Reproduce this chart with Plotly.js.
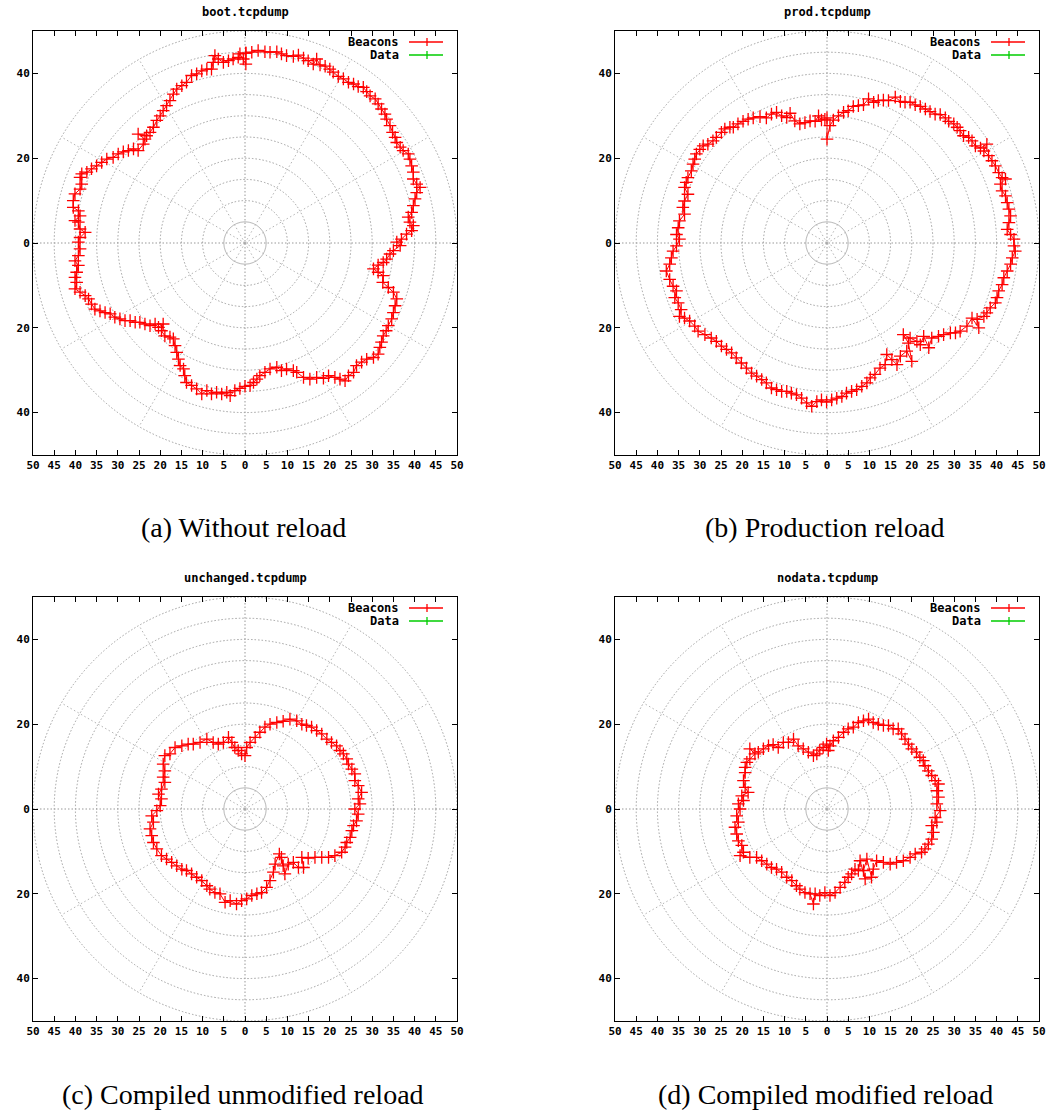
<!DOCTYPE html>
<html>
<head>
<meta charset="utf-8">
<script src="https://cdn.plot.ly/plotly-3.0.1.min.js"></script>
<style>html,body{margin:0;padding:0;background:#fff;}#chart{width:1053px;height:1112px;}</style>
</head>
<body>
<div id="chart"></div>
<script>
// ---------- data (data units) ----------
const titles = ['boot.tcpdump', 'prod.tcpdump', 'unchanged.tcpdump', 'nodata.tcpdump'];
const captions = ['(a) Without reload', '(b) Production reload', '(c) Compiled unmodified reload', '(d) Compiled modified reload'];
const seriesNames = ['Beacons', 'Data'];
const xTickVals = [-50,-45,-40,-35,-30,-25,-20,-15,-10,-5,0,5,10,15,20,25,30,35,40,45,50];
const xTickText = ['50','45','40','35','30','25','20','15','10','5','0','5','10','15','20','25','30','35','40','45','50'];
const yTickVals = [-40,-20,0,20,40];
const yTickText = ['40','20','0','20','40'];
const gridRadii = [5,10,15,20,25,30,35,40,45,50];
const gridAngles = [30,60,120,150,210,240,300,330];

const bootX = [0.2,1.6,3.1,4.7,5.9,7.5,8.6,9.8,11.4,12.6,13.8,14.9,16.1,16.9,17.7,18.9,20.0,20.8,22.0,23.2,24.4,25.6,26.7,27.9,28.7,29.5,30.7,31.4,32.2,33.0,33.4,34.2,34.8,35.4,35.8,36.6,37.3,38.5,38.9,39.3,39.7,39.7,40.5,41.3,40.5,40.1,39.7,39.3,38.5,38.9,39.7,39.3,38.1,36.9,35.8,36.6,35.0,34.2,33.4,32.6,31.4,30.3,31.4,32.6,32.5,33.8,35.0,35.8,35.4,35.0,34.6,33.8,33.3,32.6,32.2,31.8,31.4,30.3,28.7,27.5,26.3,25.6,24.4,23.6,22.4,21.2,19.7,18.5,16.9,15.3,13.8,12.2,11.4,9.8,8.6,7.5,5.9,4.7,3.5,2.8,2.0,1.2,0,-1.2,-2.4,-3.5,-4.3,-5.5,-6.7,-7.9,-9.0,-10.2,-11.4,-12.6,-13.8,-14.2,-14.5,-15.3,-15.7,-16.1,-16.5,-16.9,-17.7,-18.9,-19.7,-19.3,-20.4,-21.2,-22.4,-23.6,-24.8,-25.9,-27.1,-28.3,-29.5,-30.7,-31.8,-33.0,-34.2,-35.4,-36.2,-36.9,-37.7,-38.9,-40.1,-39.7,-40.1,-39.7,-39.3,-40.1,-39.3,-38.9,-39.3,-38.9,-37.7,-38.9,-39.3,-40.1,-38.9,-39.3,-40.5,-40.5,-40.1,-38.9,-38.5,-38.9,-38.5,-37.3,-36.2,-35.0,-33.8,-32.6,-31.1,-29.9,-28.7,-27.5,-26.3,-25.2,-24.0,-23.6,-25.2,-23.2,-22.4,-21.6,-20.8,-20.0,-19.3,-18.5,-17.7,-16.9,-16.1,-14.9,-13.8,-12.6,-11.4,-10.2,-9.0,-7.9,-7.5,-7.1,-6.3,-5.1,-3.9,-2.8,-1.6,-1.2,-0.4,0.2,0.2];
const bootY = [44.8,45.0,45.4,45.1,45.0,45.1,44.6,44.2,44.0,44.3,43.6,43.0,42.2,43.4,42.0,41.7,41.0,40.3,39.3,38.7,37.9,37.5,36.9,36.7,35.7,34.7,34.0,32.8,31.6,30.4,29.2,27.7,26.1,24.9,23.7,22.6,21.8,21.0,19.8,18.2,16.7,15.1,13.9,13.1,11.9,10.4,8.8,7.2,6.1,4.9,4.1,2.9,2.1,0.9,0.2,-0.6,-1.8,-2.6,-3.8,-4.6,-5.2,-6.1,-6.9,-7.7,-9.3,-10.5,-11.6,-13.2,-14.8,-16.4,-17.9,-19.5,-20.7,-21.9,-23.4,-24.6,-26.2,-27.0,-27.4,-28.1,-28.9,-30.5,-31.3,-32.5,-32.1,-31.7,-31.3,-31.9,-31.7,-32.1,-31.7,-30.5,-30.1,-29.7,-30.1,-29.3,-29.7,-30.5,-31.3,-32.1,-32.9,-33.6,-33.8,-34.3,-34.8,-36.0,-35.2,-35.6,-35.2,-35.6,-34.8,-35.6,-34.4,-33.6,-32.9,-31.3,-29.7,-28.9,-27.4,-25.8,-24.2,-22.6,-22.2,-21.9,-20.7,-19.1,-19.9,-19.1,-19.5,-19.1,-18.7,-18.7,-18.3,-18.3,-17.9,-17.5,-16.7,-16.4,-16.0,-15.6,-14.4,-13.2,-12.4,-11.6,-10.8,-9.3,-8.1,-6.9,-5.3,-4.2,-3.0,-1.4,0.2,1.3,2.5,3.3,4.9,5.3,6.4,7.6,8.4,10.0,11.6,12.7,13.9,15.5,16.3,16.7,17.5,18.2,19.0,19.8,20.2,21.0,21.5,21.8,22.2,21.8,23.3,24.5,25.7,25.3,26.1,27.3,28.9,30.0,31.2,32.4,33.6,35.1,36.3,37.1,37.9,39.5,39.9,40.6,41.0,41.0,42.6,44.2,43.4,42.6,43.0,43.4,43.8,44.6,43.4,42.2,44.8];

const prodX = [0,0,0.7,1.5,2.7,3.9,5.0,6.2,7.4,8.6,9.8,11.0,12.1,13.3,14.5,16.1,17.3,18.4,19.6,20.8,22.0,23.2,24.3,25.5,26.7,27.9,28.7,29.9,30.7,31.4,32.2,33.4,34.2,35.0,36.2,37.7,37.0,38.1,38.9,39.7,40.5,41.3,42.1,40.9,41.3,42.1,42.5,42.9,43.3,42.9,42.5,43.3,44.1,44.1,44.4,43.7,43.3,42.5,41.7,41.3,40.5,40.1,39.7,38.5,37.7,37.0,35.4,35.8,34.2,33.0,31.4,30.3,29.1,27.5,26.3,24.7,24.0,22.8,22.0,21.2,19.6,18.0,19.2,20.0,18.8,17.3,16.5,15.3,14.1,13.7,12.5,11.3,10.2,9.4,8.2,7.0,5.8,4.6,3.5,2.3,1.1,-0.1,-1.3,-2.4,-3.6,-4.8,-6.0,-7.2,-8.4,-9.5,-10.7,-11.9,-13.1,-14.3,-15.4,-16.6,-17.8,-19.0,-20.2,-21.4,-22.5,-23.7,-24.9,-26.1,-27.3,-28.8,-30.4,-31.2,-32.4,-33.6,-34.8,-34.4,-35.1,-35.9,-35.5,-36.3,-37.1,-37.9,-37.1,-36.7,-36.3,-35.5,-34.8,-35.5,-35.1,-34.8,-33.6,-34.0,-33.6,-32.8,-33.6,-33.2,-32.8,-32.0,-31.6,-31.2,-30.8,-30.0,-29.2,-28.1,-26.9,-26.1,-24.9,-24.1,-22.9,-22.1,-21.0,-19.8,-18.6,-17.4,-15.8,-14.3,-13.1,-11.9,-10.7,-9.5,-8.7,-7.6,-6.4,-5.2,-4.0,-2.8,-2.0,-1.3,-0.5];
const prodY = [29.5,24.5,27.7,29.0,30.0,30.8,31.2,32.2,32.4,32.6,34.0,33.2,33.6,33.7,33.6,34.4,33.4,33.2,33.2,32.6,32.2,31.6,31.0,30.4,30.3,29.5,28.7,28.1,27.3,26.5,25.3,24.9,24.1,22.9,22.4,23.3,21.7,20.6,19.4,18.2,16.6,15.4,15.1,13.9,12.3,11.1,9.5,8.0,6.4,4.8,3.2,2.0,0.9,-0.7,-1.9,-3.5,-5.0,-6.6,-8.2,-9.8,-11.3,-12.9,-14.1,-15.3,-16.5,-17.3,-18.0,-20.0,-17.7,-19.6,-20.8,-21.2,-21.2,-21.6,-22.0,-22.4,-24.7,-22.0,-24.0,-23.2,-22.4,-21.6,-23.6,-27.9,-25.5,-26.7,-28.7,-27.5,-26.3,-28.7,-29.5,-31.0,-31.8,-33.0,-33.8,-34.6,-35.0,-35.4,-36.2,-36.6,-37.0,-37.5,-37.0,-37.4,-38.5,-37.7,-36.6,-35.8,-35.4,-35.0,-35.0,-34.6,-34.2,-33.0,-32.2,-31.4,-30.7,-29.5,-28.3,-27.1,-25.9,-25.1,-24.3,-23.2,-22.4,-21.6,-20.8,-19.6,-18.4,-17.7,-17.3,-15.7,-14.1,-12.9,-11.3,-10.2,-8.6,-6.6,-5.0,-3.5,-1.9,-0.7,0.9,2.0,3.6,5.2,6.8,8.4,9.9,11.5,13.1,14.3,15.4,17.0,18.6,19.8,21.0,22.1,22.9,23.3,24.1,24.9,26.1,26.9,27.3,27.3,28.1,28.7,29.2,29.5,29.8,29.5,30.4,30.8,30.0,29.6,30.6,28.8,28.1,28.4,28.8,28.7,30.0,29.0,29.2];

const unchX = [0,0.4,1.2,2.4,3.5,4.7,5.9,7.5,9.0,10.6,12.2,13.4,14.5,15.7,16.9,18.1,19.3,20.4,21.6,22.4,23.2,24.0,24.4,25.2,25.9,25.9,26.7,27.5,26.7,27.1,25.9,26.7,26.3,25.6,25.2,24.8,24.0,23.6,22.8,21.2,19.7,18.1,16.5,14.9,13.4,13.8,12.6,11.4,10.2,9.4,8.6,9.0,8.1,7.1,6.7,5.9,5.1,3.9,2.8,1.6,0.4,-0.8,-2.0,-3.5,-4.7,-5.9,-7.1,-8.3,-9.0,-10.2,-11.4,-12.6,-13.8,-14.9,-16.1,-17.3,-18.5,-19.7,-20.8,-21.6,-22.0,-22.4,-21.6,-22.0,-20.8,-20.0,-19.7,-20.4,-19.7,-18.9,-19.3,-18.9,-19.3,-18.9,-17.7,-16.5,-14.9,-13.4,-12.2,-10.6,-9.0,-7.5,-6.3,-5.1,-3.9,-3.1,-2.4,-1.6,-0.8];
const unchY = [12.6,14.5,15.7,16.9,18.1,19.3,20.0,20.4,20.7,21.2,20.8,20.0,19.7,19.3,18.5,17.7,16.5,15.7,14.9,13.8,13.0,11.8,10.6,9.4,8.3,6.7,5.5,3.9,2.4,1.2,0,-1.2,-2.8,-3.9,-5.1,-6.7,-7.9,-9.0,-10.2,-11.0,-11.4,-11.4,-11.4,-11.6,-11.4,-13.8,-13.8,-12.6,-13.0,-15.3,-11.4,-13.4,-10.6,-13.0,-14.9,-16.9,-18.5,-19.7,-20.0,-20.4,-21.2,-21.6,-22.4,-21.6,-22.0,-20.0,-19.7,-18.9,-18.1,-16.9,-16.1,-15.3,-14.5,-14.2,-13.4,-12.6,-11.8,-11.0,-9.4,-7.9,-6.3,-4.7,-3.1,-1.6,-0.4,0.8,2.4,3.5,4.7,6.3,7.5,9.0,10.6,12.6,13.0,14.5,14.9,15.3,15.3,15.7,16.5,15.7,15.3,15.7,16.9,15.7,14.5,13.8,13.0];

const nodataX = [0.3,0.7,1.5,2.7,3.9,5.0,6.2,7.4,8.6,9.8,10.9,12.1,13.3,14.5,15.6,16.8,17.6,18.4,19.2,20.0,21.1,21.9,22.7,23.1,23.9,24.7,25.5,26.3,25.9,26.3,25.9,26.7,25.5,25.9,24.7,25.1,24.7,23.9,23.1,22.3,20.8,19.6,18.0,16.4,14.9,13.3,11.7,10.9,10.5,9.4,8.6,9.0,7.8,7.4,6.6,5.8,5.0,4.2,3.1,1.9,0.7,-0.5,-1.7,-2.8,-3.2,-4.0,-5.2,-6.4,-7.2,-8.3,-9.5,-10.7,-11.9,-13.1,-14.2,-15.4,-16.6,-18.2,-20.5,-19.7,-20.1,-20.9,-21.3,-21.7,-20.9,-21.3,-20.5,-20.9,-19.7,-20.1,-18.6,-19.3,-19.7,-19.3,-19.3,-18.9,-18.2,-17.0,-18.2,-16.2,-15.0,-13.8,-12.7,-11.5,-10.3,-9.1,-7.9,-6.8,-5.6,-4.4,-3.2,-2.4,-1.7,-0.9,-0.1];
const nodataY = [13.8,14.9,16.1,16.9,18.1,18.9,19.3,20.4,20.8,21.2,20.4,20.0,19.7,19.7,18.9,18.9,17.7,16.5,15.3,14.2,13.4,12.2,11.4,10.2,9.0,7.9,6.7,5.9,4.3,2.8,1.2,-0.4,-2.0,-3.1,-3.9,-5.5,-7.1,-8.3,-9.4,-10.2,-10.6,-11.4,-12.2,-12.6,-13.0,-12.6,-12.2,-14.2,-16.1,-11.8,-14.5,-16.5,-12.2,-14.5,-14.2,-15.3,-16.1,-17.3,-18.5,-19.7,-20.4,-19.7,-20.4,-20.0,-22.4,-20.0,-19.7,-18.9,-18.1,-16.9,-16.1,-14.9,-14.2,-13.8,-13.0,-12.2,-11.4,-11.4,-11.0,-10.2,-8.6,-7.5,-5.9,-4.3,-3.1,-1.6,0,1.2,2.0,3.1,3.9,5.1,6.7,8.6,9.8,11.0,11.8,13.0,14.2,13.4,14.2,14.9,15.2,14.5,15.7,15.7,16.5,14.9,14.2,13.4,12.6,13.0,13.9,14.5,15.3];

// ---------- layout geometry ----------
const W = 1053, H = 1112, S = 424;
const boxes = [[33, 31], [615, 31], [33, 597], [615, 597]];
const seriesX = [bootX, prodX, unchX, nodataX];
const seriesY = [bootY, prodY, unchY, nodataY];
const MONO = 'DejaVu Sans Mono, monospace';
const GRID = '#a0a0a0';

const data = [];
const layout = {
  width: W, height: H, margin: {l: 0, r: 0, t: 0, b: 0},
  paper_bgcolor: '#fff', plot_bgcolor: '#fff', showlegend: false,
  shapes: [], annotations: []
};

boxes.forEach((b, i) => {
  const sfx = i === 0 ? '' : String(i + 1);
  const xa = 'x' + sfx, ya = 'y' + sfx;
  const [L, T] = b;
  const axBase = {
    range: [-50, 50], tickmode: 'array', ticks: 'inside', ticklen: 5, tickwidth: 1, tickcolor: '#000',
    showline: true, linecolor: '#000', linewidth: 1, mirror: 'ticks',
    showgrid: false, zeroline: false, fixedrange: true,
    tickfont: {family: MONO, size: 11, weight: 'bold', color: '#000'}
  };
  layout['xaxis' + sfx] = Object.assign({}, axBase, {
    domain: [L / W, (L + S) / W], anchor: ya, tickvals: xTickVals, ticktext: xTickText
  });
  layout['yaxis' + sfx] = Object.assign({}, axBase, {
    domain: [1 - (T + S) / H, 1 - T / H], anchor: xa, tickvals: yTickVals, ticktext: yTickText
  });

  // polar grid circles
  gridRadii.forEach(r => {
    layout.shapes.push({type: 'circle', xref: xa, yref: ya, x0: -r, x1: r, y0: -r, y1: r,
      layer: 'below', line: {color: r === 5 ? '#b8b8b8' : GRID, width: 1, dash: r === 5 ? 'solid' : '1.5px,2px'}});
  });
  // radial spokes
  gridAngles.forEach(a => {
    const t = a * Math.PI / 180;
    layout.shapes.push({type: 'line', xref: xa, yref: ya, x0: 0, y0: 0, x1: 50 * Math.cos(t), y1: 50 * Math.sin(t),
      layer: 'below', line: {color: '#b4b4b4', width: 1, dash: '1.5px,2.5px'}});
  });
  // zero axes
  layout.shapes.push({type: 'line', xref: xa, yref: ya, x0: -50, x1: 50, y0: 0, y1: 0, layer: 'below',
    line: {color: '#999', width: 1, dash: '1.5px,2px'}});
  layout.shapes.push({type: 'line', xref: xa, yref: ya, x0: 0, x1: 0, y0: -50, y1: 50, layer: 'below',
    line: {color: '#999', width: 1, dash: '1.5px,2px'}});

  // series
  data.push({
    type: 'scatter', mode: 'lines+markers', name: seriesNames[0], xaxis: xa, yaxis: ya,
    x: seriesX[i], y: seriesY[i], cliponaxis: true,
    line: {color: '#ff0000', width: 1},
    marker: {symbol: 'cross-thin-open', size: 9, color: '#ff0000', line: {color: '#ff0000', width: 1.3}}
  });
  data.push({
    type: 'scatter', mode: 'lines+markers', name: seriesNames[1], xaxis: xa, yaxis: ya,
    x: [], y: [], line: {color: '#00cc00', width: 1},
    marker: {symbol: 'cross-thin-open', size: 9, color: '#00cc00', line: {color: '#00cc00', width: 1.3}}
  });

  // legend (gnuplot style: text, then line sample with a cross)
  const u = 100 / S; // data units per pixel
  const legTextX = -50 + 368 * u, legL = -50 + 376 * u, legR = -50 + 410 * u, legM = -50 + 394 * u;
  const rows = [50 - 11 * u, 50 - 24 * u];
  const colors = ['#ff0000', '#00cc00'];
  rows.forEach((ry, k) => {
    layout.annotations.push({xref: xa, yref: ya, x: legTextX, y: ry, xanchor: 'right', yanchor: 'middle',
      text: seriesNames[k], showarrow: false, font: {family: MONO, size: 12, weight: 'bold', color: '#000'}});
    layout.shapes.push({type: 'line', xref: xa, yref: ya, x0: legL, x1: legR, y0: ry, y1: ry,
      line: {color: colors[k], width: 1.3}});
    layout.shapes.push({type: 'line', xref: xa, yref: ya, x0: legM, x1: legM, y0: ry - 4 * u, y1: ry + 4 * u,
      line: {color: colors[k], width: 1.3}});
  });

  // title above the box
  layout.annotations.push({xref: 'paper', yref: 'paper', x: (L + S / 2) / W, y: 1 - (T - 19) / H,
    xanchor: 'center', yanchor: 'middle', showarrow: false, text: titles[i],
    font: {family: MONO, size: 12, weight: 'bold', color: '#000'}});
  // sub-figure caption
  layout.annotations.push({xref: 'paper', yref: 'paper', x: (L + S / 2 - 2) / W, y: 1 - (T + 497) / H,
    xanchor: 'center', yanchor: 'middle', showarrow: false, text: captions[i],
    font: {family: 'Liberation Serif, serif', size: 28, color: '#000'}});
});

Plotly.newPlot('chart', data, layout, {staticPlot: true, displayModeBar: false});
</script>
</body>
</html>
